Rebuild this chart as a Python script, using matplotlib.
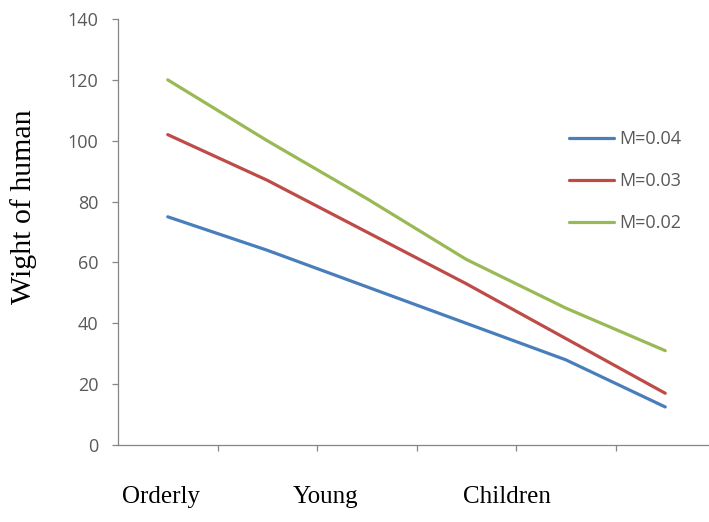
import matplotlib
matplotlib.use("Agg")
import matplotlib.pyplot as plt
import numpy as np

# Data
groups = ["Orderly", "Young", "Children"]
m_labels = ["M=0.04", "M=0.03", "M=0.02"]
m004 = [75, 64, 52, 40, 28, 12.5]
m003 = [102, 87, 70, 53, 35, 17]
m002 = [120, 100, 81, 61, 45, 31]
y_ticks = [0, 20, 40, 60, 80, 100, 120, 140]

colors = ["#4A7EBB", "#BE4B48", "#98B954"]
axis_grey = "#868686"
text_grey = "#595959"
sans = "Open Sans"
serif = "Liberation Serif"

W, H = 709, 522
fig = plt.figure(figsize=(W / 100, H / 100), dpi=100)
fig.patch.set_facecolor("white")

# plot area in pixel units -> figure fractions
left_px, right_px, top_px, bottom_px = 118, 715, 19, 445
ax = fig.add_axes([left_px / W, 1 - bottom_px / H,
                   (right_px - left_px) / W, (bottom_px - top_px) / H])

n = len(m004)
x = np.arange(n) + 0.5
for vals, lab, c in zip([m004, m003, m002], m_labels, colors):
    ax.plot(x, vals, color=c, lw=2.3, label=lab, solid_capstyle="round",
            solid_joinstyle="round")

ax.set_xlim(0, n)
ax.set_ylim(0, 140)
ax.set_yticks(y_ticks)
ax.set_xticks(np.arange(1, n + 1))
ax.set_xticklabels([])

for side in ["top", "right"]:
    ax.spines[side].set_visible(False)
for side in ["left", "bottom"]:
    ax.spines[side].set_color(axis_grey)
    ax.spines[side].set_linewidth(0.9)

ax.tick_params(axis="both", direction="out", color=axis_grey, width=0.9,
               length=4)
ax.tick_params(axis="y", labelcolor=text_grey, labelsize=13, pad=10)
for t in ax.get_yticklabels():
    t.set_fontfamily(sans)

fig.text(24 / W, 1 - 207 / H, "Wight of human", family=serif, fontsize=21.5,
         color="black", rotation=90, ha="center", va="center")

# category names under the axis
label_x_px = [161, 326, 507]
for name, px in zip(groups, label_x_px):
    fig.text(px / W, 1 - 497 / H, name, family=serif,
             fontsize=18, color="black", ha="center", va="center")

leg = ax.legend(loc="upper left", bbox_to_anchor=(553 / W, 1 - 114 / H),
                bbox_transform=fig.transFigure, frameon=False,
                handlelength=2.5, handletextpad=0.28, labelspacing=1.32,
                borderpad=0.4, prop={"family": sans, "size": 13})
for t in leg.get_texts():
    t.set_color(text_grey)

fig.savefig("out.png", dpi=100, facecolor="white")
